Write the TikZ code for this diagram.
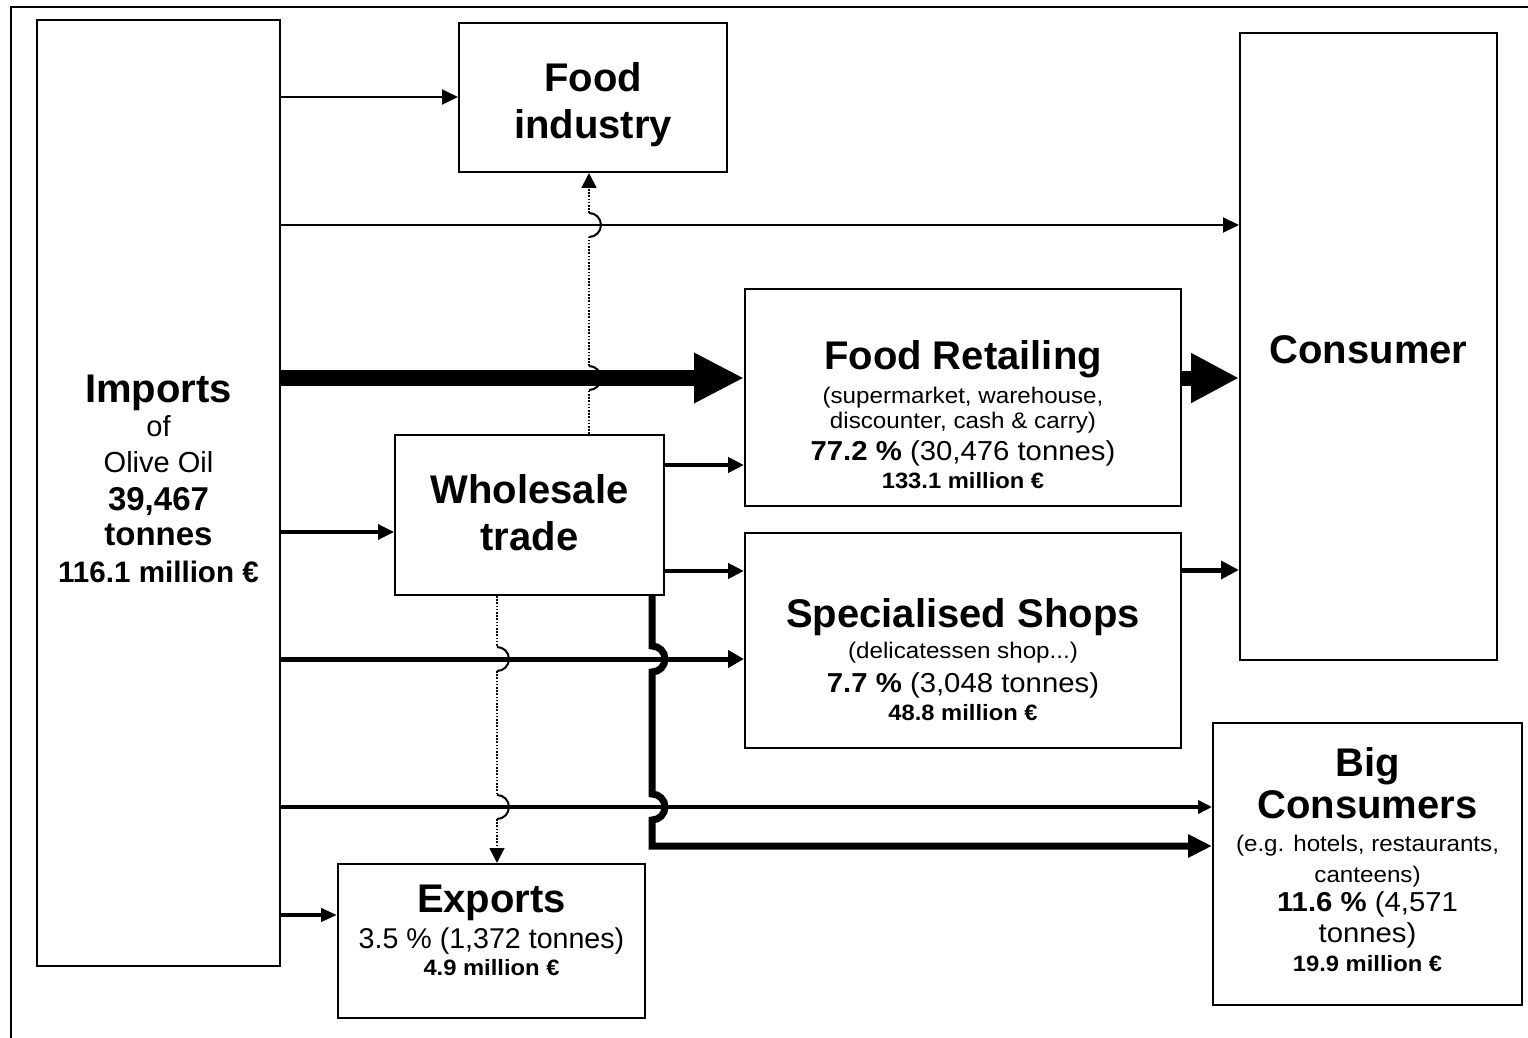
\documentclass[tikz,border=0pt]{standalone}
\usepackage{fontspec}
\setmainfont{Liberation Sans}
\newfontfamily\stretchfont[FakeStretch=1.07]{Liberation Sans}
\usetikzlibrary{arrows.meta}
\tikzset{
  box/.style={draw, line width=1pt, inner sep=0pt},
  lbl/.style={anchor=base, inner sep=0pt},
  ttl/.style={lbl, font=\fontsize{20}{24}\selectfont\bfseries},
  sub/.style={lbl, font=\stretchfont\fontsize{11.3}{13}\selectfont},
  pct/.style={lbl, font=\stretchfont\fontsize{13.7}{16}\selectfont},
  mil/.style={lbl, font=\stretchfont\fontsize{11.1}{13}\selectfont\bfseries},
  thinarr/.style={line width=1pt, -{Triangle[length=8pt,width=7.5pt]}},
  medarr/.style={line width=2pt, -{Triangle[length=8pt,width=7.5pt]}},
  medarrb/.style={line width=2.5pt, -{Triangle[length=8pt,width=8.5pt]}},
  bigarr/.style={line width=8pt, -{Triangle[length=25pt,width=23.5pt]}},
  dotline/.style={line width=0.8pt, dash pattern=on 0.8pt off 0.8pt},
  hoparc/.style={line width=1pt},
}
\begin{document}
\begin{tikzpicture}[x=0.5pt,y=-0.5pt]
\useasboundingbox (0,0) rectangle (1528,1038);
% outer frame
\draw[line width=1pt] (11,1038) -- (11,7) -- (1528,7);

% boxes
\node[box, line width=1.4pt, minimum width=121.5pt, minimum height=473pt] (imp) at (158.5,493) {};
\node[box, minimum width=134pt, minimum height=74.5pt] (fi) at (593,97.5) {};
\node[box, minimum width=128.5pt, minimum height=313.5pt] (cons) at (1368.5,346.5) {};
\node[box, minimum width=218pt, minimum height=108.5pt] (fr) at (963,397.5) {};
\node[box, minimum width=134.5pt, minimum height=80pt] (ws) at (529.5,515) {};
\node[box, minimum width=218pt, minimum height=107.5pt] (ss) at (963,640.5) {};
\node[box, minimum width=153.5pt, minimum height=77pt] (exp) at (491.5,941) {};
\node[box, minimum width=154.5pt, minimum height=141pt] (big) at (1367.5,864) {};

% texts
\node[ttl] (imp1) at (158.5,402) {Imports};
\node[lbl, font=\fontsize{14.5}{17}\selectfont] (imp2) at (158.5,436) {of};
\node[lbl, font=\fontsize{14.5}{17}\selectfont] (imp3) at (158.5,472) {Olive Oil};
\node[lbl, font=\fontsize{16.5}{19}\selectfont\bfseries] (imp4) at (158.5,510) {39,467};
\node[lbl, font=\fontsize{16.5}{19}\selectfont\bfseries] (imp5) at (158.5,545) {tonnes};
\node[lbl, font=\fontsize{14.8}{17}\selectfont\bfseries] (imp6) at (158.5,582) {116.1 million €};

\node[ttl] (fi1) at (593,92) {Food};
\node[ttl] (fi2) at (593,139) {industry};

\node[ttl] (co1) at (1368.5,363) {Consumer};

\node[ttl] (fr1) at (963,369) {Food Retailing};
\node[sub] (fr2) at (963,403) {(supermarket, warehouse,};
\node[sub] (fr3) at (963,428) {discounter, cash \& carry)};
\node[pct] (fr4) at (963,460) {{\bfseries 77.2 \%} (30,476 tonnes)};
\node[mil] (fr5) at (963,488) {133.1 million €};

\node[ttl] (ws1) at (529.5,503) {Wholesale};
\node[ttl] (ws2) at (529.5,550) {trade};

\node[ttl] (ss1) at (963,627) {Specialised Shops};
\node[sub] (ss2) at (963,658) {(delicatessen shop...)};
\node[pct] (ss3) at (963,692) {{\bfseries 7.7 \%} (3,048 tonnes)};
\node[mil] (ss4) at (963,720) {48.8 million €};

\node[ttl] (ex1) at (491.5,912) {Exports};
\node[lbl, font=\fontsize{14.3}{17}\selectfont] (ex2) at (491.5,948) {3.5 \% (1,372 tonnes)};
\node[mil] (ex3) at (491.5,975) {4.9 million €};

\node[ttl] (bg1) at (1367.5,776) {Big};
\node[ttl] (bg2) at (1367.5,818) {Consumers};
\node[sub] (bg3) at (1367.5,851) {(e.g. hotels, restaurants,};
\node[sub] (bg4) at (1367.5,882) {canteens)};
\node[pct] (bg5) at (1367.5,911) {{\bfseries 11.6 \%} (4,571};
\node[pct] (bg6) at (1367.5,942) {tonnes)};
\node[mil] (bg7) at (1367.5,971) {19.9 million €};

% connectors
\draw[thinarr] (imp.east |- 0,97) -- (fi.west |- 0,97);
\draw[thinarr] (imp.east |- 0,225) -- (cons.west |- 0,225);
\draw[bigarr] (imp.east |- 0,378) -- (fr.west |- 0,378);
\draw[line width=7.5pt, -{Triangle[length=24pt,width=23.3pt]}] (fr.east |- 0,378) -- (cons.west |- 0,378);
\draw[medarr] (ws.east |- 0,465) -- (fr.west |- 0,465);
\draw[line width=1.7pt, -{Triangle[length=8pt,width=7.5pt]}] (imp.east |- 0,532) -- (ws.west |- 0,532);
\draw[medarr] (ws.east |- 0,571) -- (ss.west |- 0,571);
\draw[medarrb, -{Triangle[length=9pt,width=8.8pt]}] (ss.east |- 0,570) -- (cons.west |- 0,570);
\draw[medarrb] (imp.east |- 0,659) -- (ss.west |- 0,659);
\draw[medarr, -{Triangle[length=7pt,width=6.5pt]}] (imp.east |- 0,807) -- (big.west |- 0,807);
\draw[medarr, -{Triangle[length=8pt,width=6.5pt]}] (imp.east |- 0,915) -- (exp.west |- 0,915);

% wholesale -> big consumers (thick, with hops)
\draw[line width=3.5pt, -{Triangle[length=12pt,width=11pt]}]
  (ws.south -| 652,0) -- (652,646) arc[start angle=-90, end angle=90, radius=13]
  -- (652,794) arc[start angle=-90, end angle=90, radius=13]
  -- (652,846) -- (big.west |- 0,846);

% wholesale -> food industry (dotted, with hops)
\draw[dotline] (ws.north -| 589,0) -- (589,390);
\draw[hoparc] (589,390) arc[start angle=90, end angle=-90, radius=12];
\draw[dotline] (589,366) -- (589,237);
\draw[hoparc] (589,237) arc[start angle=90, end angle=-90, radius=12];
\draw[dotline, -{Triangle[length=7.5pt,width=7.5pt]}] (589,213) -- (fi.south -| 589,0);

% wholesale -> exports (dotted, with hops)
\draw[dotline] (ws.south -| 497,0) -- (497,647);
\draw[hoparc] (497,647) arc[start angle=-90, end angle=90, radius=12];
\draw[dotline] (497,671) -- (497,795);
\draw[hoparc] (497,795) arc[start angle=-90, end angle=90, radius=12];
\draw[dotline, -{Triangle[length=7.5pt,width=7.5pt]}] (497,819) -- (exp.north -| 497,0);
\end{tikzpicture}
\end{document}
